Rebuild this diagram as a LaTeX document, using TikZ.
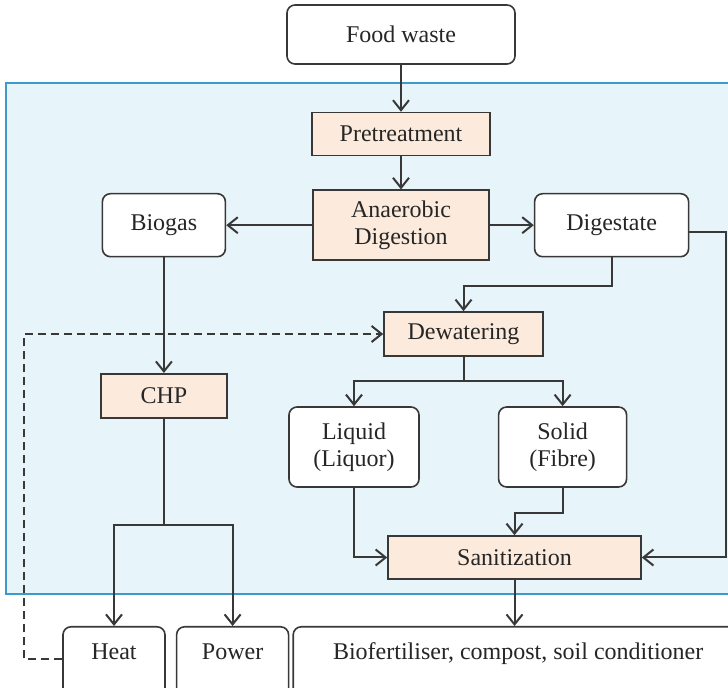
\documentclass[tikz,border=0pt]{standalone}
\usepackage{fontspec}
\setmainfont{Liberation Serif}
\usetikzlibrary{arrows.meta, positioning, calc}
\definecolor{zonebg}{HTML}{E7F4FA}
\definecolor{zoneline}{HTML}{3D9BCB}
\definecolor{stepbg}{HTML}{FCEBDD}
\definecolor{linecol}{HTML}{383838}

\begin{document}
\begin{tikzpicture}[
  x=0.5pt, y=-0.5pt,
  box/.style={
    rectangle, rounded corners=4pt, draw=linecol, line width=0.8pt,
    fill=white, font=\fontsize{12}{13.5}\selectfont, text=black!85,
    align=center, inner sep=2pt
  },
  proc/.style={box, rounded corners=0pt, fill=stepbg},
  endbox/.style={box, text height=10.5pt, text depth=14pt, inner ysep=6pt},
  arr/.style={-{Straight Barb[length=5pt,width=8pt]}, line width=1pt, draw=linecol},
]
  \useasboundingbox (0,0) rectangle (728,688);
  \clip (0,0) rectangle (728,688);

  % Plant zone
  \fill[zonebg, draw=zoneline, line width=0.8pt] (6,83) rectangle (745,594);

  % Main line
  \node[box, minimum width=114pt, minimum height=29.5pt] (food) at (401,34.5) {Food waste};
  \node[proc, minimum width=89pt, minimum height=21.5pt, below=23.5pt of food] (pre) {Pretreatment};
  \node[proc, minimum width=88pt, minimum height=35pt, below=16.5pt of pre] (ad) {Anaerobic\\Digestion};
  \node[box, minimum width=61.5pt, minimum height=31.5pt, left=43pt of ad] (biogas) {Biogas};
  \node[box, minimum width=77pt, minimum height=31.5pt, right=22pt of ad] (dig) {Digestate};

  % Digestate treatment
  \node[proc, minimum width=79.5pt, minimum height=22pt] (dew) at (463.5,334) {Dewatering};
  \node[box, minimum width=65pt, minimum height=40pt] (liq) at (354,447) {Liquid\\(Liquor)};
  \node[box, minimum width=64pt, minimum height=40pt, right=39pt of liq] (sol) {Solid\\(Fibre)};
  \node[proc, minimum width=126.5pt, minimum height=21.5pt] (san) at (514.5,557.5) {Sanitization};

  % Biogas use
  \node[proc, minimum width=63pt, minimum height=22pt, below=57.75pt of biogas] (chp) {CHP};

  % Products
  \node[endbox, minimum width=51pt, anchor=north] (heat) at (114,626) {Heat};
  \node[endbox, minimum width=56pt, right=5pt of heat] (power) {Power};
  \node[endbox, minimum width=225pt, right=1.5pt of power] (biof) {Biofertiliser, compost, soil conditioner};

  % Main arrows
  \draw[arr] (food) -- (pre);
  \draw[arr] (pre) -- (ad);
  \draw[arr] (ad) -- (biogas);
  \draw[arr] (ad) -- (dig);

  % Digestate arrows
  \draw[arr] (dig.south) -- ++(0,-14.5pt) -| (dew.north);
  \draw[arr] ([yshift=-3.5pt]dig.east) -- ++(18.5pt,0) |- (san.east);
  \draw[line width=1pt, linecol] (dew.south) -- ++(0,-12pt) coordinate (dsplit);
  \draw[arr] (dsplit) -| (liq.north);
  \draw[arr] (dsplit) -| (sol.north);
  \draw[arr] (liq.south) |- (san.west);
  \draw[arr] (sol.south) -- ++(0,-12.5pt) -| (san.north);
  \draw[arr] (san.south) -- (san.south |- biof.north);

  % Biogas arrows
  \draw[arr] (biogas) -- (chp);
  \draw[line width=1pt, linecol] (chp.south) -- ++(0,-53pt) coordinate (hsplit);
  \draw[arr] (hsplit) -| (heat.north);
  \draw[arr] (hsplit) -| (power.north);

  % Heat return
  \draw[arr, dash pattern=on 4pt off 2.5pt] ([yshift=2pt]heat.west) -- ++(-19pt,0) |- (dew.west);
\end{tikzpicture}
\end{document}
